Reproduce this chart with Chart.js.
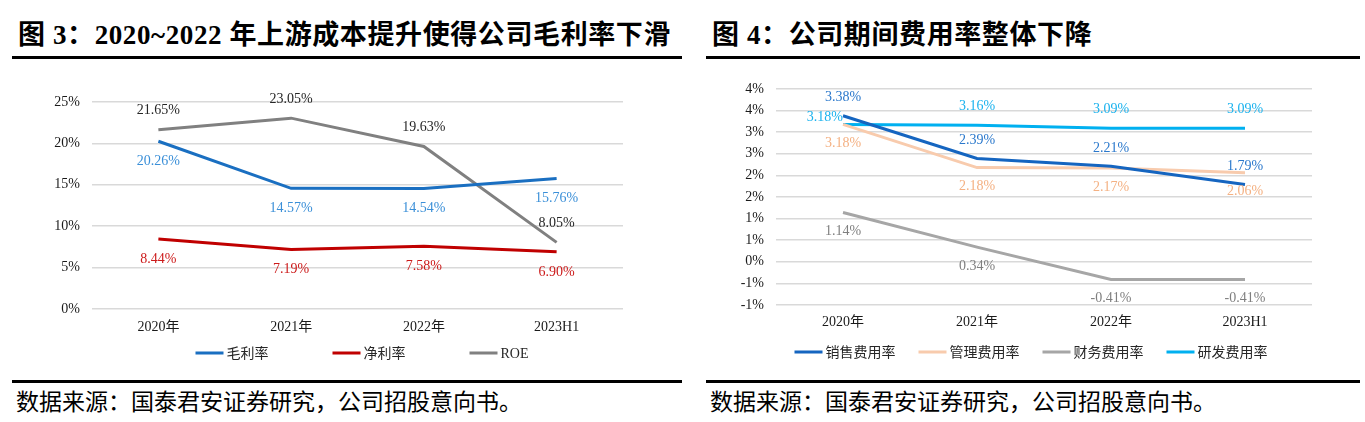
<!DOCTYPE html>
<html>
<head>
<meta charset="utf-8">
<script src="https://cdn.jsdelivr.net/npm/chart.js@4"></script>
<style>
  html, body { margin: 0; padding: 0; background: #fff; }
  body { width: 1365px; height: 422px; position: relative; overflow: hidden; }
  .title { position: absolute; top: 17px; font-family: "Liberation Serif", "Noto Sans CJK SC", serif; font-weight: bold; font-size: 27px; letter-spacing: 0.6px; color: #000; white-space: nowrap; line-height: 36px; }
  .rule { position: absolute; height: 3px; background: #000; }
  .source { position: absolute; top: 385px; font-family: "Noto Sans CJK SC", sans-serif; font-size: 23px; color: #000; white-space: nowrap; line-height: 30px; }
  canvas { position: absolute; }
</style>
</head>
<body>
<div class="title" style="left:18px;">图 3：2020~2022 年上游成本提升使得公司毛利率下滑</div>
<div class="rule" style="left:12px; width:670px; top:56px;"></div>
<div class="title" style="left:712px;">图 4：公司期间费用率整体下降</div>
<div class="rule" style="left:706px; width:654px; top:56px;"></div>

<div style="position:absolute; left:0; top:60px; width:690px; height:320px;"><canvas id="c1"></canvas></div>
<div style="position:absolute; left:690px; top:60px; width:675px; height:320px;"><canvas id="c2"></canvas></div>

<div class="rule" style="left:12px; width:670px; top:380px;"></div>
<div class="rule" style="left:706px; width:654px; top:380px;"></div>
<div class="source" style="left:16px;">数据来源：国泰君安证券研究，公司招股意向书。</div>
<div class="source" style="left:710px;">数据来源：国泰君安证券研究，公司招股意向书。</div>

<script>
// ---------- data ----------
const categories = ['2020年', '2021年', '2022年', '2023H1'];

// chart 1
const grossMargin = [20.26, 14.57, 14.54, 15.76];   // 毛利率
const netMargin   = [8.44, 7.19, 7.58, 6.90];       // 净利率
const roe         = [21.65, 23.05, 19.63, 8.05];    // ROE
const yTicks1     = ['0%', '5%', '10%', '15%', '20%', '25%'];

// chart 2
const sellingRate = [3.38, 2.39, 2.21, 1.79];       // 销售费用率
const adminRate   = [3.18, 2.18, 2.17, 2.06];       // 管理费用率
const financeRate = [1.14, 0.34, -0.41, -0.41];     // 财务费用率
const rdRate      = [3.18, 3.16, 3.09, 3.09];       // 研发费用率
const yTicks2     = ['-1%', '-1%', '0%', '1%', '1%', '2%', '2%', '3%', '3%', '4%', '4%'];

const NUM_FONT = '"Liberation Serif", "Noto Sans CJK SC", serif';

// ---------- plugins ----------
const pointLabelPlugin = {
  id: 'pointLabels',
  afterDatasetsDraw(chart) {
    const ctx = chart.ctx;
    ctx.save();
    ctx.font = '14px ' + NUM_FONT;
    chart.data.datasets.forEach((ds, i) => {
      const cfg = ds.pointLabel;
      if (!cfg) return;
      const meta = chart.getDatasetMeta(i);
      meta.data.forEach((pt, j) => {
        const text = ds.data[j].toFixed(2) + '%';
        let pos = cfg.pos;
        if (j === 0 && cfg.firstPos) pos = cfg.firstPos;
        ctx.fillStyle = cfg.color;
        ctx.textBaseline = 'middle';
        if (pos === 'left') {
          ctx.textAlign = 'right';
          ctx.fillText(text, pt.x, pt.y - 7);
        } else {
          ctx.textAlign = 'center';
          const dy = pos === 'above' ? -cfg.dist : cfg.dist;
          ctx.fillText(text, pt.x, pt.y + dy);
        }
      });
    });
    ctx.restore();
  }
};

const lineLegendPlugin = {
  id: 'lineLegend',
  afterDraw(chart, args, opts) {
    const ctx = chart.ctx;
    ctx.save();
    ctx.font = '14px ' + NUM_FONT;
    const items = chart.data.datasets.map(ds => ({
      label: ds.label, color: ds.borderColor, w: ctx.measureText(ds.label).width
    }));
    const lineW = 28, gapText = 3;
    let total = 0;
    items.forEach((it, k) => { total += lineW + gapText + it.w + (k < items.length - 1 ? opts.gap : 0); });
    let x = opts.centerX - total / 2;
    const y = opts.y;
    items.forEach(it => {
      ctx.fillStyle = it.color;
      ctx.fillRect(x, y - 1.5, lineW, 3);
      x += lineW + gapText;
      ctx.fillStyle = '#262626';
      ctx.textAlign = 'left';
      ctx.textBaseline = 'middle';
      ctx.fillText(it.label, x, y + 1);
      x += it.w + opts.gap;
    });
    ctx.restore();
  }
};

function baseOptions(cfg) {
  return {
    responsive: true,
    maintainAspectRatio: false,
    animation: false,
    events: [],
    layout: { padding: { left: 0, right: cfg.padRight, top: cfg.padTop, bottom: cfg.padBottom } },
    plugins: {
      legend: { display: false },
      tooltip: { enabled: false },
      lineLegend: { centerX: cfg.legendX, y: cfg.legendY, gap: cfg.legendGap }
    },
    elements: { point: { radius: 0 }, line: { borderWidth: 3, tension: 0, borderCapStyle: 'butt', borderJoinStyle: 'miter' } },
    scales: {
      x: {
        type: 'category',
        offset: true,
        grid: { display: false, drawTicks: false },
        border: { display: false },
        ticks: { color: '#1a1a1a', font: { family: NUM_FONT, size: 14 }, padding: cfg.xPad, maxRotation: 0, autoSkip: false },
        afterFit(s) { s.height = 30; }
      },
      y: {
        min: cfg.min, max: cfg.max,
        grid: { color: '#d9d9d9', lineWidth: 1.5, drawTicks: false },
        border: { display: false },
        ticks: {
          stepSize: cfg.step,
          color: '#1a1a1a',
          font: { family: NUM_FONT, size: 14 },
          padding: 12,
          callback: (v, idx) => cfg.tickLabels[idx]
        },
        afterFit(s) { s.width = cfg.yWidth; }
      }
    }
  };
}

new Chart(document.getElementById('c1'), {
  type: 'line',
  data: {
    labels: categories,
    datasets: [
      { label: '毛利率', data: grossMargin, borderColor: '#1a6fc1', backgroundColor: '#1a6fc1',
        pointLabel: { pos: 'below', dist: 20, color: '#3a8fd8' } },
      { label: '净利率', data: netMargin, borderColor: '#c00000', backgroundColor: '#c00000',
        pointLabel: { pos: 'below', dist: 20, color: '#cc1a1a' } },
      { label: 'ROE', data: roe, borderColor: '#808080', backgroundColor: '#808080',
        pointLabel: { pos: 'above', dist: 19, color: '#262626' } }
    ]
  },
  options: baseOptions({ padRight: 67, padTop: 42, padBottom: 41, yWidth: 92, min: 0, max: 25, step: 5,
    tickLabels: yTicks1, xPad: 10, legendX: 362, legendY: 293, legendGap: 64 }),
  plugins: [pointLabelPlugin, lineLegendPlugin]
});

new Chart(document.getElementById('c2'), {
  type: 'line',
  data: {
    labels: categories,
    datasets: [
      { label: '销售费用率', data: sellingRate, borderColor: '#1565c0', backgroundColor: '#1565c0', order: 0,
        pointLabel: { pos: 'above', dist: 18, color: '#2a78cc' } },
      { label: '管理费用率', data: adminRate, borderColor: '#f8cbad', backgroundColor: '#f8cbad', order: 1,
        pointLabel: { pos: 'below', dist: 19, color: '#f4b183' } },
      { label: '财务费用率', data: financeRate, borderColor: '#a6a6a6', backgroundColor: '#a6a6a6', order: 1,
        pointLabel: { pos: 'below', dist: 19, color: '#7f7f7f' } },
      { label: '研发费用率', data: rdRate, borderColor: '#00b0f0', backgroundColor: '#00b0f0', order: 1,
        pointLabel: { pos: 'above', dist: 19, color: '#1ab2ee', firstPos: 'left' } }
    ]
  },
  options: baseOptions({ padRight: 53, padTop: 29, padBottom: 45, yWidth: 86, min: -1, max: 4, step: 0.5,
    tickLabels: yTicks2, xPad: 9, legendX: 341, legendY: 292, legendGap: 23 }),
  plugins: [pointLabelPlugin, lineLegendPlugin]
});
</script>
</body>
</html>
